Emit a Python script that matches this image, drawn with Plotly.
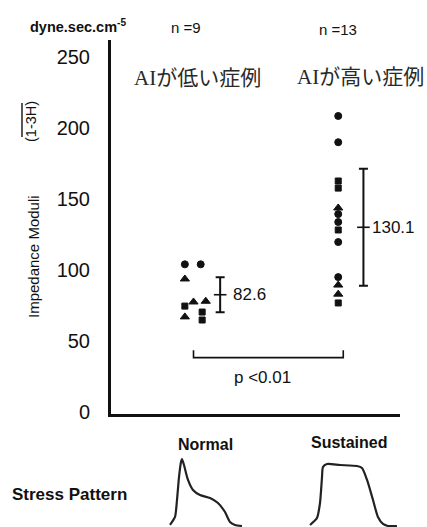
import plotly.graph_objects as go

# ---------------- data ----------------
group_names = ["Normal", "Sustained"]
group_x = [1.0, 2.0]
group_n = ["n =9", "n =13"]
group_titles = ["AIが低い症例", "AIが高い症例"]

# individual cases: value, symbol, small horizontal offset within the group column
normal_values = [104, 104, 93.7, 77.5, 78, 67, 74.6, 70.4, 64.8]
normal_symbols = ["circle", "circle", "triangle-up", "triangle-up", "triangle-up",
                  "triangle-up", "square", "square", "square"]
normal_offsets = [-0.07, 0.04, -0.07, -0.01, 0.075, -0.07, -0.07, 0.05, 0.05]

sustained_values = [208.5, 190, 162.7, 157.7, 143.7, 139.4, 133.8, 128.2, 119.7,
                    95, 89.4, 83, 76.8]
sustained_symbols = ["circle", "circle", "square", "square", "triangle-up", "circle",
                     "circle", "square", "circle", "circle", "triangle-up",
                     "triangle-up", "square"]
sustained_offsets = [-0.005] * 13

means = [82.6, 130.1]
sds = [12.3, 41.2]
mean_label = ["82.6", "130.1"]
sd_offsets = [0.175, 0.17]
label_shift = [11, 7]

p_text = "p <0.01"
y_ticks = [0, 50, 100, 150, 200, 250]

# stress waveforms (normalised time, normalised stress)
normal_t = [0.0625, 0.125, 0.15, 0.175, 0.2, 0.2125, 0.2375, 0.2875, 0.35, 0.4375,
            0.5625, 0.6625, 0.75, 0.8125, 0.875, 0.9625]
normal_s = [0.028, 0.139, 0.375, 0.694, 0.903, 0.944, 0.861, 0.653, 0.514, 0.444,
            0.403, 0.333, 0.208, 0.069, 0.028, 0.014]
sustained_t = [0.053, 0.126, 0.158, 0.179, 0.189, 0.232, 0.368, 0.547, 0.6, 0.653,
               0.716, 0.768, 0.821, 0.874, 0.968]
sustained_s = [0.028, 0.125, 0.333, 0.694, 0.833, 0.875, 0.861, 0.847, 0.819, 0.653,
               0.375, 0.139, 0.042, 0.014, 0.014]

# ---------------- figure ----------------
SANS = "Liberation Sans, Arial, sans-serif"
INK = "#111111"
fig = go.Figure()

size_of = {"circle": 7, "triangle-up": 8, "square": 6}

for gx, vals, syms, offs in [(group_x[0], normal_values, normal_symbols, normal_offsets),
                             (group_x[1], sustained_values, sustained_symbols, sustained_offsets)]:
    fig.add_trace(go.Scatter(
        x=[gx + o for o in offs], y=vals, mode="markers",
        marker=dict(symbol=syms, size=[size_of[s] for s in syms], color=INK,
                    opacity=1, line=dict(width=1, color=INK)),
        showlegend=False, cliponaxis=False))

# mean +/- SD bars
for gx, m, sd, off, lab, sh in zip(group_x, means, sds, sd_offsets, mean_label, label_shift):
    fig.add_trace(go.Scatter(
        x=[gx + off], y=[m], mode="markers",
        marker=dict(symbol="line-ew", size=9, line=dict(width=1.6, color=INK)),
        error_y=dict(type="data", array=[sd], visible=True, thickness=2,
                     width=4.5, color=INK),
        showlegend=False))
    fig.add_annotation(x=gx + off, y=m, text=lab, showarrow=False, xanchor="left",
                       yanchor="middle", xshift=sh,
                       font=dict(family=SANS, size=17, color=INK))

# significance bracket
bt, bb = 43.5, 38.3
fig.add_trace(go.Scatter(
    x=[group_x[0] - 0.01, group_x[0] - 0.01, group_x[1] + 0.03, group_x[1] + 0.03],
    y=[bt, bb, bb, bt], mode="lines", line=dict(color=INK, width=1.6),
    showlegend=False, hoverinfo="skip"))
fig.add_annotation(x=(group_x[0] + group_x[1]) / 2 - 0.03, y=24.6, text=p_text,
                   showarrow=False, xanchor="center", yanchor="middle",
                   font=dict(family=SANS, size=17, color=INK))

# waveforms
fig.add_trace(go.Scatter(x=normal_t, y=normal_s, xaxis="x2", yaxis="y2", mode="lines",
                         line=dict(color="#222", width=2.2, shape="spline", smoothing=0.6),
                         showlegend=False))
fig.add_trace(go.Scatter(x=sustained_t, y=sustained_s, xaxis="x3", yaxis="y2", mode="lines",
                         line=dict(color="#222", width=2.2, shape="spline", smoothing=0.6),
                         showlegend=False))

W, H = 427, 527
def px(x):
    return x / W
def py(y):
    return 1 - y / H

fig.update_layout(
    width=W, height=H, margin=dict(l=0, r=0, t=0, b=0, autoexpand=False),
    paper_bgcolor="white", plot_bgcolor="white",
    xaxis=dict(domain=[px(111), px(400)], range=[0.417, 2.424], showgrid=False,
               zeroline=False, showticklabels=False, ticks="", showline=True,
               linewidth=3, linecolor=INK, automargin=False),
    yaxis=dict(domain=[py(414), py(40)], range=[-1.4, 262], showgrid=False,
               zeroline=False, tickvals=y_ticks, ticks="", showline=True,
               linewidth=3, linecolor=INK, ticklabelstandoff=14, automargin=False,
               tickfont=dict(family=SANS, size=20, color=INK)),
    xaxis2=dict(domain=[px(165), px(245)], range=[0, 1], visible=False, anchor="y2",
                automargin=False),
    xaxis3=dict(domain=[px(305), px(400)], range=[0, 1], visible=False, anchor="y2",
                automargin=False),
    yaxis2=dict(domain=[0, py(455)], range=[0, 1], visible=False, anchor="x2",
                automargin=False),
)

def note(x, y, text, size, xanchor="center", yanchor="middle", angle=0,
         family=SANS, color=INK):
    fig.add_annotation(xref="paper", yref="paper", x=px(x), y=py(y), text=text,
                       xanchor=xanchor, yanchor=yanchor, textangle=angle,
                       showarrow=False, font=dict(family=family, size=size, color=color))

# group headers
for (x, y), t in zip([(186, 28), (338, 30)], group_n):
    note(x, y, t, 15)
for (x, y), t in zip([(197, 78), (360, 77)], group_titles):
    note(x, y, t, 21, family="Liberation Serif, Noto Sans CJK JP", color="#2a2a2a")
for (x, y), t in zip([(205, 444), (349, 442)], group_names):
    note(x, y, "<b>%s</b>" % t, 16)

note(10, 494, "<b>Stress Pattern</b>", 17, xanchor="left")
note(28, 37, "<b>dyne.sec.cm<sup>-5</sup></b>", 14.5, xanchor="left", yanchor="bottom")
note(33, 257, "Impedance Moduli", 15, angle=-90)
note(31, 122, "(1-3H)", 14.5, angle=-90)
fig.add_shape(type="line", xref="paper", yref="paper", x0=px(22), x1=px(22),
              y0=py(103), y1=py(137), line=dict(color=INK, width=1.4))

fig.write_html("out.html", config={"displayModeBar": False},
               post_script="document.body.style.margin='0';")
